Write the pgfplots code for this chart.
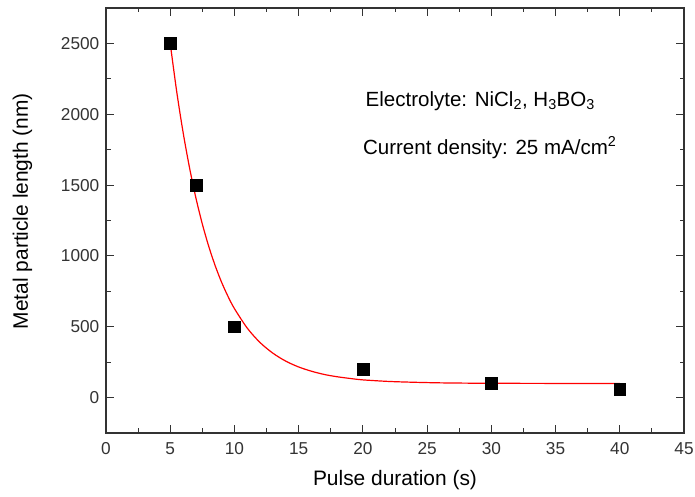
\documentclass[border=0pt]{standalone}
\usepackage{fontspec}
\setmainfont{Liberation Sans}
\usepackage{pgfplots}
\pgfplotsset{compat=1.18}
\definecolor{axgray}{HTML}{333333}
\begin{document}
\begin{tikzpicture}
\useasboundingbox (0,0) rectangle (695bp,497bp);
\begin{axis}[
  at={(106bp,64bp)}, anchor=south west,
  scale only axis, width=578bp, height=425bp,
  xmin=0, xmax=45, ymin=-250, ymax=2750,
  xtick={0,5,...,45}, ytick={0,500,...,2500},
  minor x tick num=1, minor y tick num=1,
  tick align=inside,
  major tick length=8bp, minor tick length=4.5bp,
  axis line style={axgray, line width=1.2bp},
  every tick/.style={axgray, line width=1bp},
  /pgf/number format/assume math mode=true,
  /pgf/number format/set thousands separator={},
  ticklabel style={font=\fontsize{17.3}{20}\selectfont, text=axgray},
  yticklabel style={xshift=-3.2bp},
  xticklabel style={yshift=-6bp},
  label style={font=\fontsize{21}{25}\selectfont},
  xlabel={Pulse duration (s)},
  ylabel={Metal particle length (nm)},
  xlabel style={at={(axis description cs:0.5,-0.1247)}, anchor=base},
  ylabel style={at={(axis description cs:-0.135,0.522)}, anchor=base},
  clip=false,
]
\addplot[red, line width=1.2bp, smooth] coordinates {
(5,2500) (5.5,2163) (6,1873) (6.5,1624) (7,1409) (7.5,1225) (8,1067)
(8.5,931) (9,814) (9.5,714) (10,628) (11,490) (12,388) (13,313) (14,257)
(15,216) (16,186) (17,163) (18,147) (19,135) (20,125) (22,114) (24,108)
(26,104) (28,102) (30,101) (35,100) (40,100)
};
\addplot[only marks, mark=square*, mark size=5.8bp, mark options={fill=black, draw=black, line width=0.3bp}] coordinates {
(5,2500) (7,1500) (10,500) (20,200) (30,100) (40,60)
};
\node[anchor=base west, font=\fontsize{20.6}{24}\selectfont, inner sep=0pt] at (axis cs:20.2,2056) {Electrolyte: NiCl\textsubscript{2}, H\textsubscript{3}BO\textsubscript{3}};
\node[anchor=base west, font=\fontsize{20.6}{24}\selectfont, inner sep=0pt] at (axis cs:20.0,1718) {Current density: 25 mA/cm\textsuperscript{2}};
\end{axis}
\end{tikzpicture}
\end{document}
